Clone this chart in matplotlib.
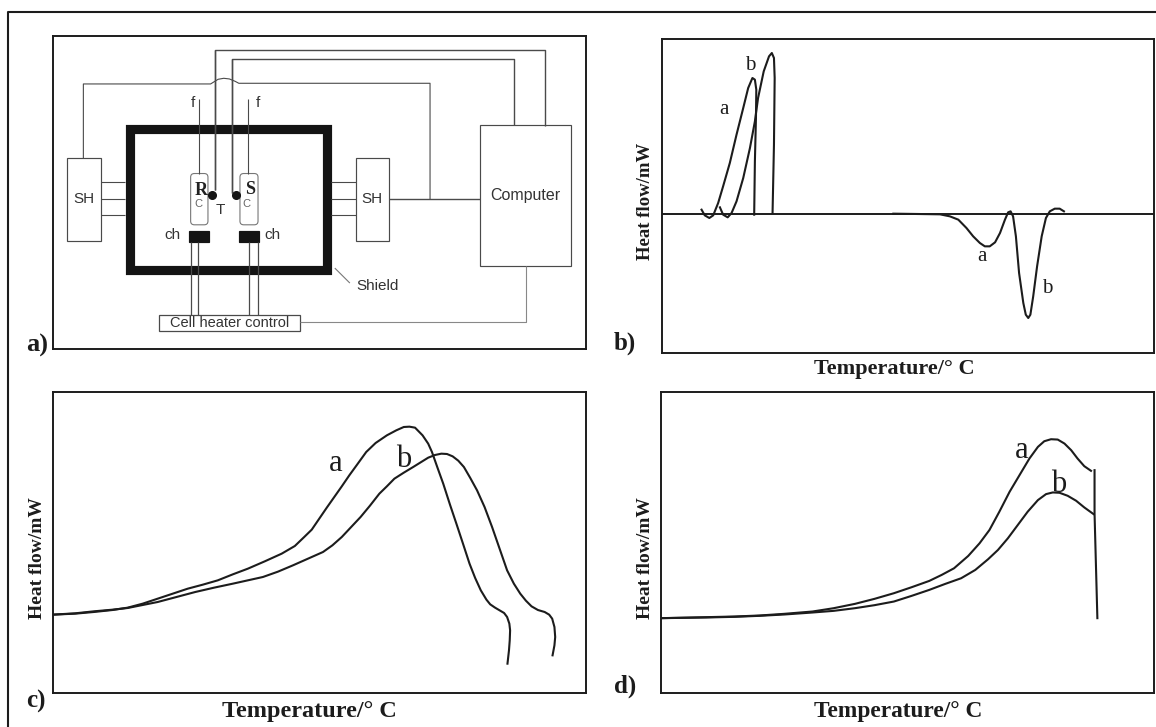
import matplotlib
matplotlib.use("Agg")
import matplotlib.pyplot as plt
from matplotlib.patches import Rectangle, FancyBboxPatch

W, H = 1156, 727
INK = "#1c1c1c"
SERIF = "Liberation Serif"
SANS = "Liberation Sans"

# panel c (heat flow vs temperature, arbitrary read-off units)
c_a_x = [140,200,250,300,340,380,420,460,500,540,580,620,660,705,750,785,810,830,850,870,890,910,930,950,975,1000,1030,1055,1075,1090,1105,1125,1140,1150,1165,1180,1198,1215,1232,1250,1265,1280,1295,1305,1318,1330,1342,1350,1356,1358,1357,1355,1351]
c_a_y = [235,238,243,249,256,268,283,298,313,325,338,356,373,395,418,441,468,490,523,556,588,620,653,684,723,750,773,788,798,799,796,773,748,723,675,628,565,508,450,388,345,308,280,266,256,248,240,228,208,188,158,128,88]
c_b_x = [140,200,250,300,340,380,420,470,520,570,620,660,700,740,780,820,860,885,910,935,960,985,1010,1030,1050,1075,1100,1120,1140,1158,1175,1190,1205,1220,1235,1252,1270,1290,1310,1330,1350,1368,1385,1400,1415,1432,1450,1462,1470,1476,1478,1476,1471]
c_b_y = [235,239,245,250,255,264,273,288,303,316,328,338,348,364,383,403,423,443,468,498,528,562,598,620,643,661,678,692,706,714,718,717,710,697,678,645,608,558,498,433,368,328,298,277,260,249,243,235,223,198,168,143,113]

# panel d
d_a_x = [172,300,380,450,520,600,660,720,775,830,880,930,965,1000,1040,1072,1100,1128,1157,1185,1213,1237,1255,1274,1293,1312,1331,1349,1368,1387]
d_a_y = [225,228,230,233,238,245,255,268,283,300,318,337,355,375,412,450,490,545,605,655,705,740,757,763,762,750,730,705,682,668]
d_b_x = [172,300,380,450,520,600,660,720,775,830,880,930,975,1020,1060,1096,1124,1152,1180,1208,1237,1260,1279,1298,1321,1345,1368,1394]
d_b_y = [225,227,229,232,236,242,247,255,264,275,292,310,328,345,370,402,430,465,505,545,580,598,603,602,593,578,558,538]
d_end_x = [1397,1397,1405]
d_end_y = [670,540,225]

# panel b
b_a_x = [287,296,309,320,334,348,367,386,405,419,431,438,442,441,438,436]
b_a_y = [12,-5,-13,-5,32,82,152,237,317,377,407,402,372,287,157,-3]
b_b_x = [339,348,361,372,386,405,424,438,447,463,478,486,492,494,492,488]
b_b_y = [19,-3,-11,2,37,107,197,277,347,427,472,482,467,407,207,2]
b_e_x = [830,900,962,990,1014,1037,1056,1075,1089,1103,1118,1132,1146,1155,1162,1169,1177,1186,1198,1205,1212,1218,1226,1237,1250,1262,1273,1287,1301,1313]
b_e_y = [0,-1,-2,-8,-18,-43,-68,-88,-98,-98,-86,-58,-18,4,7,-8,-68,-178,-268,-303,-313,-303,-248,-158,-68,-13,7,15,15,7]
b_base_x = [175,1568]
b_base_y = [0,0]

fig = plt.figure(figsize=(W/100, H/100), dpi=100, facecolor="white")

def panel(l, t, r, b, xl, yl):
    ax = fig.add_axes([l/W, 1-b/H, (r-l)/W, (b-t)/H])
    ax.set_xlim(*xl); ax.set_ylim(*yl)
    ax.set_xticks([]); ax.set_yticks([])
    for s in ax.spines.values():
        s.set_linewidth(1.4); s.set_color(INK)
    return ax

def ftext(x, y, s, size, family=SERIF, weight="bold", rot=0, color=INK):
    return fig.text(x/W, 1-y/H, s, fontsize=size, family=family, weight=weight,
                    rotation=rot, color=color, ha="center", va="center")

# outer frame
frame = fig.add_axes([0, 0, 1, 1], zorder=-1)
frame.set_xlim(0, W); frame.set_ylim(H, 0); frame.axis("off")
frame.plot([8, 8, 1156], [727, 12, 12], color=INK, lw=1.5)

# ---------- a) ----------
axa = panel(52.5, 36, 585.5, 349, (140, 1556), (988, 48))
def L(xs, ys, lw=0.8, c="#4a4a4a", **k):
    axa.plot(xs, ys, color=c, lw=lw, solid_capstyle="butt", **k)
def R(x0, y0, x1, y1, fc="white", ec="#4a4a4a", lw=0.85):
    axa.add_patch(Rectangle((x0, y0), x1-x0, y1-y0, fc=fc, ec=ec, lw=lw))
def T(x, y, s, size=11, color="#333333", **k):
    axa.text(x, y, s, fontsize=size, family=SANS, color=color, ha="center", va="center", **k)

for y in (487, 538, 586):
    L([268, 332], [y, y]); L([880, 945], [y, y])
L([222, 222, 560, 570, 580, 595, 610, 625, 635, 1143, 1143], [415, 192, 192, 185, 178, 175, 177, 184, 190, 190, 538])
L([1033, 1275], [538, 538], lw=1.0)
L([573, 573, 1449, 1449], [510, 90, 90, 318], lw=1.0)
L([617, 617, 1367, 1367], [520, 118, 118, 316], lw=1.0)
R(178, 415, 268, 663); R(945, 415, 1033, 665); R(1275, 316, 1518, 738)
axa.add_patch(Rectangle((345, 327), 523, 425, fc="none", ec="#141414", lw=6.6, joinstyle="miter"))
for x0, x1 in ((507, 553), (638, 686)):
    axa.add_patch(FancyBboxPatch((x0+10, 472), x1-x0-20, 132, boxstyle="round,pad=10",
                                 fc="white", ec="#777777", lw=0.8, mutation_aspect=1.1))
L([530, 530], [238, 462]); L([660, 660], [238, 462])
L([573, 573], [90, 510], lw=1.0); L([617, 617], [118, 520], lw=1.0)
for x in (507, 527, 661, 686):
    L([x, x], [667, 887], lw=0.9)
R(503, 635, 556, 667, fc="#141414", ec="#141414"); R(635, 635, 688, 667, fc="#141414", ec="#141414")
R(422, 887, 798, 935, lw=0.9)
L([798, 1397, 1397], [908, 908, 738], c="#888888")
L([890, 930], [745, 790], c="#777777")
axa.plot([565, 628], [525, 525], ls="none", marker="o", ms=5.5, color="#141414")
T(513, 250, "f"); T(685, 250, "f")
axa.text(535, 511, "R", fontsize=13, family=SERIF, weight="bold", color="#222222", ha="center", va="center")
axa.text(665, 510, "S", fontsize=13, family=SERIF, weight="bold", color="#222222", ha="center", va="center")
T(528, 552, "C", size=8, color="#666666"); T(656, 552, "C", size=8, color="#666666")
T(585, 570, "T"); T(459, 645, "ch"); T(725, 645, "ch")
T(223, 538, "SH"); T(989, 538, "SH"); T(1395, 527, "Computer", size=11.5)
T(1003, 798, "Shield"); T(610, 910, "Cell heater control", size=10.5)

# ---------- b) ----------
axb = panel(662, 39, 1154, 353, (175, 1568), (-418, 524))
for xs, ys, lw in ((b_base_x, b_base_y, 1.4), (b_a_x, b_a_y, 1.5), (b_b_x, b_b_y, 1.5), (b_e_x, b_e_y, 1.5)):
    axb.plot(xs, ys, color=INK, lw=lw, solid_joinstyle="round")
for x, y, s in ((350, 312, "a"), (424, 443, "b"), (1080, -130, "a"), (1265, -224, "b")):
    axb.text(x, y, s, fontsize=15, family=SERIF, color=INK, ha="center", va="center")

# ---------- c) ----------
axc = panel(52.5, 392, 586, 693, (140, 1560), (0, 903))
axc.plot(c_a_x, c_a_y, color=INK, lw=1.5)
axc.plot(c_b_x, c_b_y, color=INK, lw=1.5)
axc.text(893, 688, "a", fontsize=22, family=SERIF, color=INK, ha="center", va="center")
axc.text(1075, 700, "b", fontsize=22, family=SERIF, color=INK, ha="center", va="center")

# ---------- d) ----------
axd = panel(661, 392, 1154, 693, (172, 1565), (0, 905))
axd.plot(d_a_x, d_a_y, color=INK, lw=1.5)
axd.plot(d_b_x, d_b_y, color=INK, lw=1.5)
axd.plot(d_end_x, d_end_y, color=INK, lw=1.5)
axd.text(1190, 730, "a", fontsize=22, family=SERIF, color=INK, ha="center", va="center")
axd.text(1297, 626, "b", fontsize=22, family=SERIF, color=INK, ha="center", va="center")

# ---------- figure labels ----------
ftext(37, 345, "a)", 19); ftext(625, 343, "b)", 18)
ftext(36, 701, "c)", 18); ftext(625, 686, "d)", 18)
ftext(645, 201, "Heat flow/mW", 13.5, rot=90)
ftext(37, 558, "Heat flow/mW", 14, rot=90)
ftext(645, 558, "Heat flow/mW", 14, rot=90)
ftext(894, 369, "Temperature/° C", 16)
ftext(309, 711, "Temperature/° C", 17.5)
ftext(898, 712, "Temperature/° C", 16.8)

fig.savefig("out.png", dpi=100)
